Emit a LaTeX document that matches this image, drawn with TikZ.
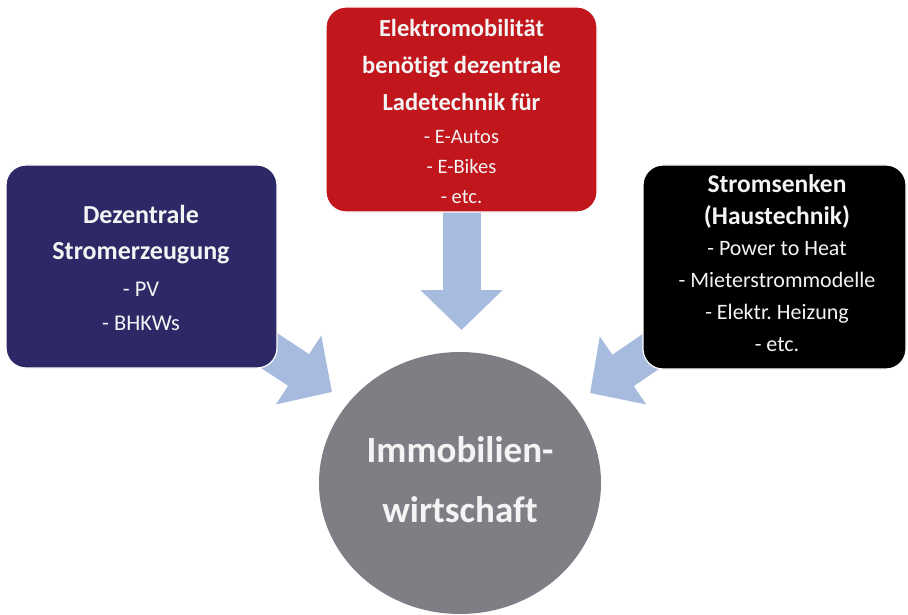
\documentclass[tikz,border=0pt]{standalone}
\usepackage{fontspec}
\setmainfont[Ligatures=NoCommon]{Carlito}
\usetikzlibrary{arrows.meta,shapes.geometric,backgrounds}
\definecolor{boxblue}{HTML}{2C2966}
\definecolor{boxred}{HTML}{C0161C}
\definecolor{circgray}{HTML}{7F7E85}
\definecolor{arrowblue}{HTML}{A7BBDF}
\definecolor{txtwhite}{HTML}{F4F4F4}
\begin{document}
\frenchspacing
\begin{tikzpicture}[x=1pt,y=-1pt,
  box/.style={draw=white, line width=1.2pt, rounded corners=20pt, inner sep=0pt},
  blockarrow/.style={draw=arrowblue, line width=38pt, line cap=butt, -{Triangle[length=40pt,width=80pt]}},
  headtxt/.style={text=txtwhite, font=\bfseries\fontsize{24.5}{36}\selectfont, align=center, inner sep=0pt},
  itemtxt/.style={text=txtwhite, font=\fontsize{21}{32}\selectfont, align=center, inner sep=0pt}]
\useasboundingbox (0,0) rectangle (908,615);
% boxes
\node[box, fill=boxblue, minimum width=271pt, minimum height=203pt] (blue) at (141.5,266.5) {};
\node[box, fill=boxred, minimum width=271pt, minimum height=205pt] (red) at (461.5,109.5) {};
\node[box, fill=black, minimum width=263pt, minimum height=204pt] (blk) at (774.5,267) {};
\node[ellipse, fill=circgray, minimum width=282pt, minimum height=262pt, inner sep=0pt] (immo) at (460,483) {};
% arrow tips
\coordinate (tipL) at (332,392);
\coordinate (tipD) at (461.5,330);
\coordinate (tipR) at (590,393);
\begin{scope}[on background layer]
\draw[blockarrow] (blue.center) -- (tipL);
\draw[blockarrow] (red.center) -- (tipD);
\draw[blockarrow] (blk.center) -- (tipR);
\end{scope}
% texts
\node[headtxt, font=\bfseries\fontsize{26}{36}\selectfont] (blueh) at (141,235) {Dezentrale\\Stromerzeugung};
\node[itemtxt, font=\fontsize{22.5}{34}\selectfont] (bluei) at (141,306) {- PV\\- BHKWs};
\node[headtxt, font=\bfseries\fontsize{24.5}{37}\selectfont] (redh) at (461.5,65) {Elektromobilität\\benötigt dezentrale\\Ladetechnik für};
\node[itemtxt, font=\fontsize{20.5}{30}\selectfont] (redi) at (461.5,167) {- E-Autos\\- E-Bikes\\- etc.};
\node[headtxt, font=\bfseries\fontsize{25.5}{32}\selectfont] (blkh) at (777,201) {Stromsenken\\(Haustechnik)};
\node[itemtxt, font=\fontsize{22}{32}\selectfont] (blki) at (777,296.5) {- Power to Heat\\- Mieterstrommodelle\\- Elektr. Heizung\\- etc.};
\node[headtxt, font=\bfseries\fontsize{37}{60}\selectfont] (immot) at (460,480) {Immobilien-\\wirtschaft};
\end{tikzpicture}
\end{document}
